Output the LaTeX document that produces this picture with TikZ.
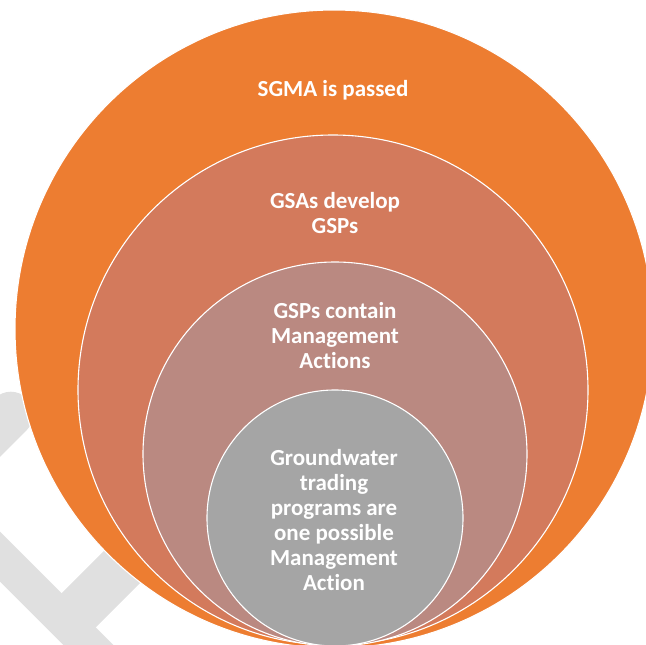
\documentclass[tikz,border=0pt]{standalone}
\usepackage{fontspec}
\setmainfont{Carlito}[Ligatures=NoCommon]
\definecolor{sgmaorange}{RGB}{237,125,49}
\definecolor{gsarust}{RGB}{211,122,92}
\definecolor{gsprose}{RGB}{186,137,129}
\definecolor{tradegrey}{RGB}{165,165,165}
\definecolor{markgrey}{RGB}{224,224,224}
\begin{document}
\begin{tikzpicture}[
                          x=1pt,y=-1pt,
                          ring/.style={circle,draw=white,line width=1.1pt,inner sep=0pt},
                          caption/.style={text=white,font=\bfseries\fontsize{23}{25}\selectfont,align=center},
                          mark/.style={draw=markgrey,line width=#1}
                        ]
                        \useasboundingbox (0,0) rectangle (646,645);
                        \clip (0,0) rectangle (646,645);
                        \draw[mark=45pt,line cap=round] (10.8,414.2) -- (-40,465);
                        \draw[mark=35.4pt] (-20,536.7) -- (140,696.7);
                        \draw[mark=48.3pt] (66.2,622.8) -- (166,523);

                        \node[ring,fill=sgmaorange,minimum size=638pt] (sgma) at (334,329) {};
                        \node[ring,fill=gsarust,minimum size=510pt] (gsa) at (333,390) {};
                        \node[ring,fill=gsprose,minimum size=384pt] (gsp) at (335,454) {};
                        \node[ring,fill=tradegrey,minimum size=256pt] (trade) at (335,518) {};

                        \node[caption] (sgmatext) at (333,90) {SGMA is passed};
                        \node[caption] (gsatext) at (335,213) {GSAs develop\\GSPs};
                        \node[caption] (gsptext) at (335,336) {GSPs contain\\Management\\Actions};
                        \node[caption] (tradetext) at (334,520) {Groundwater\\trading\\programs are\\one possible\\Management\\Action};
                      \end{tikzpicture}
\end{document}
